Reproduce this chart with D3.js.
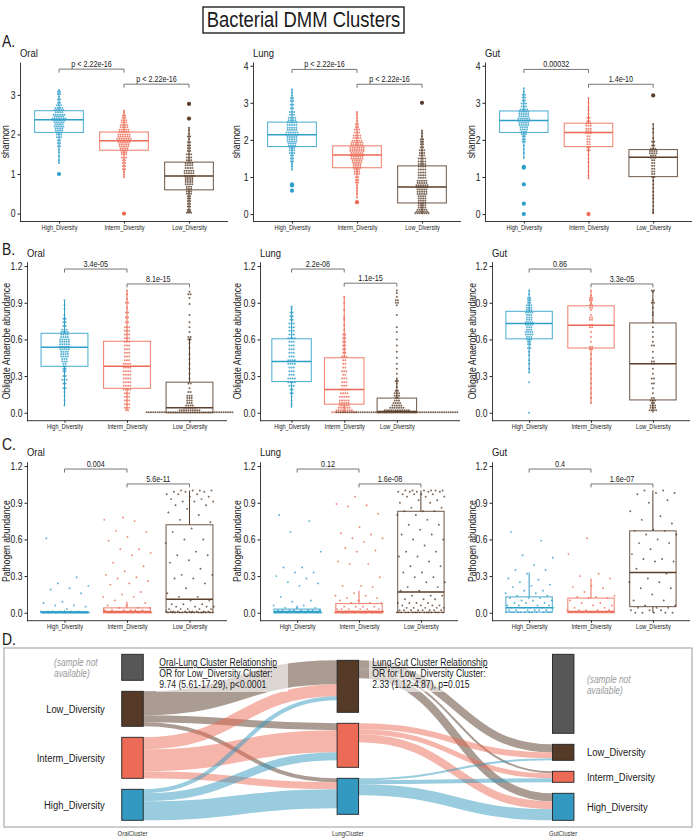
<!DOCTYPE html>
<html>
<head>
<meta charset="utf-8">
<script src="https://cdn.jsdelivr.net/npm/d3@7"></script>
<style>
  body { margin: 0; background: #fff; }
  svg text { font-family: "Liberation Sans", Arial, sans-serif; fill: #1a1a1a; }
</style>
</head>
<body>
<div id="wrapper"></div>
<script>
// ---------- data ----------
const groups = ["High_Diversity", "Interm_Diversity", "Low_Diversity"]
const sites = ["Oral", "Lung", "Gut"]

// box stats per group: [q1, median, q3, whiskerLow, whiskerHigh]
const shannonOralBox = [[2.05, 2.37, 2.6, 1.28, 3.12], [1.6, 1.84, 2.06, 0.92, 2.6], [0.6, 0.95, 1.3, 0.02, 2.17]]
const shannonLungBox = [[1.82, 2.14, 2.48, 1.2, 3.36], [1.25, 1.59, 1.84, 0.45, 2.75], [0.3, 0.73, 1.3, 0.0, 2.25]]
const shannonGutBox = [[2.2, 2.52, 2.78, 1.51, 3.39], [1.82, 2.2, 2.45, 0.96, 3.12], [1.01, 1.53, 1.74, 0.02, 2.43]]
const shannonOralOutliers = [[1.0], [0.0], [2.4, 2.77]]
const shannonLungOutliers = [[0.8, 0.77, 0.63], [0.32], [3.0]]
const shannonGutOutliers = [[1.27, 1.25, 0.8, 0.28, 0.0], [0.0], [3.2]]
const shannonOralP = ["p < 2.22e-16", "p < 2.22e-16"]
const shannonLungP = ["p < 2.22e-16", "p < 2.22e-16"]
const shannonGutP = ["0.00032", "1.4e-10"]

// dot rows per group: [value, number of dots]
const shannonOralDots = [
  [[3.12,1],[3.08,2],[3.02,2],[2.95,1],[2.88,2],[2.8,2],[2.74,3],[2.67,4],[2.62,5],[2.56,4],[2.5,6],[2.45,5],[2.4,7],[2.35,6],[2.3,5],[2.25,4],[2.2,5],[2.15,4],[2.1,4],[2.05,3],[2.0,3],[1.93,3],[1.85,2],[1.78,2],[1.7,2],[1.62,1],[1.55,1],[1.45,1],[1.35,1],[1.28,1]],
  [[2.6,1],[2.55,1],[2.48,2],[2.42,2],[2.36,3],[2.3,3],[2.24,4],[2.18,4],[2.12,5],[2.06,5],[2.0,6],[1.95,6],[1.9,7],[1.85,7],[1.8,6],[1.75,5],[1.7,5],[1.65,4],[1.6,4],[1.55,3],[1.5,3],[1.42,3],[1.35,2],[1.28,2],[1.2,2],[1.12,2],[1.05,1],[0.98,1],[0.92,1]],
  [[2.17,1],[2.1,1],[2.02,1],[1.95,2],[1.88,1],[1.8,2],[1.72,2],[1.65,2],[1.58,2],[1.5,3],[1.42,3],[1.35,3],[1.28,4],[1.22,4],[1.15,4],[1.08,5],[1.02,5],[0.95,5],[0.9,4],[0.85,4],[0.8,4],[0.74,4],[0.68,3],[0.62,3],[0.56,3],[0.5,3],[0.44,2],[0.38,2],[0.32,2],[0.25,2],[0.18,2],[0.1,2],[0.05,2],[0.02,3]]
]
const shannonLungDots = [
  [[3.36,1],[3.28,1],[3.2,1],[3.12,2],[3.05,2],[2.95,2],[2.85,2],[2.75,3],[2.68,3],[2.6,4],[2.53,4],[2.47,5],[2.4,5],[2.33,5],[2.27,5],[2.2,6],[2.14,6],[2.08,5],[2.02,5],[1.96,5],[1.9,4],[1.84,4],[1.78,3],[1.72,3],[1.65,3],[1.58,2],[1.5,2],[1.42,2],[1.35,1],[1.28,1],[1.2,1]],
  [[2.75,1],[2.68,1],[2.6,1],[2.5,1],[2.42,2],[2.35,2],[2.28,3],[2.2,3],[2.12,4],[2.05,4],[1.98,5],[1.92,6],[1.86,6],[1.8,7],[1.75,7],[1.7,7],[1.65,6],[1.6,7],[1.55,6],[1.5,6],[1.45,5],[1.4,5],[1.35,4],[1.3,4],[1.25,4],[1.2,3],[1.14,3],[1.08,3],[1.0,2],[0.92,2],[0.85,2],[0.78,1],[0.7,1],[0.62,1],[0.55,1],[0.45,1]],
  [[2.25,1],[2.18,1],[2.1,1],[2.02,2],[1.95,2],[1.88,2],[1.8,2],[1.72,3],[1.65,3],[1.58,3],[1.5,4],[1.42,4],[1.35,4],[1.28,4],[1.2,4],[1.12,4],[1.05,4],[0.98,4],[0.9,5],[0.84,5],[0.78,6],[0.72,6],[0.66,5],[0.6,5],[0.54,5],[0.48,4],[0.42,4],[0.36,4],[0.3,4],[0.24,4],[0.18,4],[0.12,5],[0.06,6],[0.02,7]]
]
const shannonGutDots = [
  [[3.39,1],[3.3,1],[3.22,2],[3.14,2],[3.06,2],[2.98,3],[2.9,3],[2.82,4],[2.76,5],[2.7,5],[2.64,5],[2.58,6],[2.52,6],[2.46,5],[2.4,5],[2.34,4],[2.28,4],[2.22,3],[2.16,3],[2.1,2],[2.02,2],[1.95,2],[1.85,1],[1.75,1],[1.65,1],[1.51,1]],
  [[3.12,1],[3.0,1],[2.88,1],[2.8,1],[2.7,1],[2.6,2],[2.5,2],[2.44,3],[2.38,3],[2.3,3],[2.24,3],[2.18,3],[2.1,2],[2.02,2],[1.95,2],[1.88,2],[1.8,2],[1.72,2],[1.6,1],[1.5,1],[1.4,1],[1.28,1],[1.15,1],[1.05,1],[0.96,1]],
  [[2.43,1],[2.3,1],[2.2,1],[2.05,1],[1.95,2],[1.85,2],[1.76,3],[1.7,4],[1.64,4],[1.58,3],[1.52,3],[1.45,2],[1.38,2],[1.3,2],[1.22,2],[1.15,2],[1.08,2],[1.0,2],[0.9,1],[0.8,1],[0.7,1],[0.6,1],[0.5,1],[0.42,1],[0.32,1],[0.22,1],[0.12,1],[0.05,1],[0.02,1]]
]

const anaerobeOralBox = [[0.38, 0.535, 0.65, 0.06, 0.92], [0.2, 0.38, 0.585, 0.02, 1.0], [0.0, 0.04, 0.25, 0.0, 0.61]]
const anaerobeLungBox = [[0.255, 0.42, 0.605, 0.05, 0.87], [0.07, 0.19, 0.45, 0.0, 0.95], [0.0, 0.01, 0.12, 0.0, 0.28]]
const anaerobeGutBox = [[0.605, 0.73, 0.83, 0.33, 1.0], [0.53, 0.715, 0.875, 0.08, 1.0], [0.105, 0.4, 0.735, 0.0, 1.0]]
const anaerobeOralP = ["3.4e-05", "8.1e-15"]
const anaerobeLungP = ["2.2e-08", "1.1e-15"]
const anaerobeGutP = ["0.86", "3.3e-05"]

const anaerobeOralDots = [
  [[0.92,1],[0.88,1],[0.85,1],[0.8,1],[0.77,2],[0.74,2],[0.71,2],[0.68,3],[0.66,4],[0.64,4],[0.62,4],[0.6,5],[0.58,5],[0.56,5],[0.54,5],[0.52,5],[0.5,4],[0.48,4],[0.46,4],[0.44,3],[0.42,3],[0.4,2],[0.38,2],[0.36,2],[0.34,2],[0.3,2],[0.27,3],[0.24,2],[0.2,2],[0.17,1],[0.14,1],[0.1,1],[0.06,1]],
  [[1.0,1],[0.97,1],[0.93,1],[0.9,2],[0.86,1],[0.82,2],[0.78,2],[0.74,2],[0.7,3],[0.67,3],[0.64,3],[0.61,3],[0.58,3],[0.55,3],[0.52,3],[0.49,3],[0.46,3],[0.43,3],[0.4,4],[0.37,4],[0.34,4],[0.31,4],[0.28,4],[0.25,4],[0.22,4],[0.19,4],[0.16,3],[0.13,3],[0.1,3],[0.07,3],[0.04,3],[0.02,2]],
  [[0.99,1],[0.97,2],[0.94,1],[0.89,1],[0.8,1],[0.74,1],[0.7,1],[0.66,1],[0.62,2],[0.6,2],[0.57,1],[0.53,1],[0.48,1],[0.44,1],[0.4,1],[0.36,1],[0.32,1],[0.28,1],[0.24,2],[0.2,1],[0.17,2],[0.14,3],[0.12,3],[0.1,3],[0.08,3],[0.06,4],[0.04,6],[0.02,10],[0.005,40]]
]
const anaerobeLungDots = [
  [[0.87,1],[0.85,1],[0.82,2],[0.79,2],[0.76,2],[0.73,3],[0.7,3],[0.67,3],[0.64,3],[0.61,4],[0.58,3],[0.55,3],[0.52,3],[0.49,3],[0.46,3],[0.43,4],[0.4,4],[0.37,3],[0.34,3],[0.31,3],[0.28,4],[0.25,4],[0.22,3],[0.19,2],[0.16,2],[0.13,1],[0.1,1],[0.07,1],[0.05,1]],
  [[0.95,1],[0.9,1],[0.84,1],[0.78,1],[0.76,1],[0.72,1],[0.68,1],[0.64,2],[0.61,2],[0.58,2],[0.55,2],[0.52,2],[0.49,2],[0.46,3],[0.43,2],[0.4,2],[0.37,2],[0.34,3],[0.31,2],[0.28,3],[0.25,3],[0.22,3],[0.19,4],[0.16,4],[0.13,5],[0.1,5],[0.08,5],[0.06,5],[0.04,6],[0.02,8],[0.005,12]],
  [[1.0,1],[0.98,1],[0.95,1],[0.92,2],[0.9,2],[0.88,1],[0.8,1],[0.7,1],[0.66,1],[0.6,1],[0.55,1],[0.5,1],[0.45,1],[0.4,1],[0.36,1],[0.32,1],[0.28,1],[0.26,2],[0.24,1],[0.21,1],[0.18,2],[0.16,3],[0.14,3],[0.12,2],[0.1,3],[0.08,4],[0.06,5],[0.04,7],[0.02,12],[0.005,56]]
]
const anaerobeGutDots = [
  [[1.0,1],[0.97,1],[0.94,2],[0.92,2],[0.9,2],[0.88,3],[0.86,3],[0.84,3],[0.82,4],[0.8,3],[0.78,3],[0.76,3],[0.74,4],[0.72,4],[0.7,3],[0.68,3],[0.66,4],[0.64,4],[0.62,3],[0.6,3],[0.58,2],[0.56,2],[0.53,2],[0.5,1],[0.47,1],[0.43,1],[0.4,1],[0.36,1],[0.33,1],[0.25,1],[0.0,1]],
  [[1.0,1],[0.96,1],[0.94,2],[0.92,2],[0.9,1],[0.88,2],[0.86,2],[0.84,1],[0.8,1],[0.78,2],[0.76,2],[0.72,2],[0.7,2],[0.66,1],[0.62,1],[0.58,1],[0.54,2],[0.52,2],[0.48,1],[0.44,1],[0.4,1],[0.36,1],[0.32,1],[0.28,1],[0.24,1],[0.2,1],[0.16,1],[0.12,1],[0.08,1]],
  [[1.0,2],[0.99,1],[0.92,1],[0.9,2],[0.86,1],[0.82,1],[0.8,1],[0.74,1],[0.7,1],[0.66,1],[0.62,1],[0.58,1],[0.55,2],[0.5,1],[0.45,1],[0.42,2],[0.4,2],[0.36,1],[0.32,1],[0.28,2],[0.24,2],[0.2,1],[0.16,1],[0.12,2],[0.1,3],[0.08,2],[0.06,3],[0.04,3],[0.02,4]]
]

const pathogenOralBox = [[0.0, 0.003, 0.01, 0.0, 0.02], [0.0, 0.01, 0.04, 0.0, 0.09], [0.003, 0.11, 0.72, 0.0, 1.0]]
const pathogenLungBox = [[0.0, 0.01, 0.03, 0.0, 0.06], [0.0, 0.01, 0.075, 0.0, 0.18], [0.003, 0.17, 0.83, 0.0, 1.0]]
const pathogenGutBox = [[0.005, 0.04, 0.13, 0.0, 0.33], [0.0, 0.01, 0.12, 0.0, 0.28], [0.05, 0.33, 0.67, 0.0, 1.0]]
const pathogenOralP = ["0.004", "5.6e-11"]
const pathogenLungP = ["0.12", "1.6e-08"]
const pathogenGutP = ["0.4", "1.6e-07"]

const pathogenOralDots = [
  [[0.61,1],[0.29,1],[0.24,1],[0.22,1],[0.2,1],[0.19,1],[0.16,1],[0.09,1],[0.08,1],[0.06,2],[0.05,1],[0.03,1],[0.01,6],[0.003,30]],
  [[0.78,1],[0.76,1],[0.75,1],[0.67,1],[0.66,1],[0.62,1],[0.59,1],[0.52,2],[0.49,1],[0.47,1],[0.41,1],[0.38,1],[0.34,1],[0.31,1],[0.29,1],[0.28,1],[0.26,1],[0.24,1],[0.23,1],[0.17,1],[0.15,1],[0.13,2],[0.1,1],[0.08,1],[0.06,2],[0.04,3],[0.02,6],[0.003,30]],
  [[1.0,4],[0.99,3],[0.97,3],[0.95,2],[0.93,2],[0.91,3],[0.88,2],[0.85,1],[0.82,1],[0.8,1],[0.76,1],[0.74,1],[0.69,1],[0.66,1],[0.6,2],[0.57,1],[0.5,1],[0.47,2],[0.43,1],[0.41,1],[0.36,1],[0.31,2],[0.28,2],[0.24,1],[0.2,1],[0.16,1],[0.13,2],[0.1,2],[0.07,3],[0.05,4],[0.03,5],[0.01,10],[0.002,14]]
]
const pathogenLungDots = [
  [[0.8,1],[0.75,1],[0.66,1],[0.5,1],[0.37,2],[0.33,2],[0.3,1],[0.28,1],[0.25,1],[0.24,1],[0.22,1],[0.13,1],[0.1,1],[0.09,1],[0.06,2],[0.04,3],[0.02,8],[0.003,40]],
  [[0.95,1],[0.89,1],[0.88,1],[0.87,1],[0.81,1],[0.7,1],[0.65,1],[0.64,1],[0.61,2],[0.58,1],[0.53,1],[0.51,1],[0.5,1],[0.42,1],[0.4,2],[0.29,1],[0.22,2],[0.21,1],[0.16,1],[0.14,2],[0.12,2],[0.1,2],[0.08,3],[0.05,4],[0.03,6],[0.01,10],[0.002,30]],
  [[1.0,6],[0.99,5],[0.97,4],[0.95,3],[0.92,2],[0.9,2],[0.86,2],[0.83,3],[0.8,2],[0.76,1],[0.72,2],[0.68,1],[0.64,2],[0.6,2],[0.55,1],[0.5,2],[0.46,2],[0.42,1],[0.38,2],[0.33,2],[0.29,2],[0.25,2],[0.21,2],[0.18,2],[0.14,3],[0.11,3],[0.08,4],[0.06,4],[0.04,5],[0.02,8],[0.003,16]]
]
const pathogenGutDots = [
  [[0.66,1],[0.59,1],[0.47,1],[0.45,1],[0.39,1],[0.35,2],[0.32,1],[0.28,1],[0.27,1],[0.25,1],[0.23,1],[0.22,1],[0.21,1],[0.18,2],[0.16,2],[0.14,2],[0.12,3],[0.1,3],[0.08,3],[0.06,4],[0.04,5],[0.02,6],[0.005,12]],
  [[0.61,1],[0.48,1],[0.32,1],[0.3,1],[0.28,1],[0.22,1],[0.21,1],[0.2,1],[0.17,1],[0.14,1],[0.13,2],[0.12,2],[0.1,1],[0.08,2],[0.06,2],[0.04,2],[0.02,5],[0.005,14]],
  [[1.0,2],[0.98,2],[0.97,1],[0.92,1],[0.9,1],[0.83,1],[0.79,1],[0.76,1],[0.73,1],[0.68,1],[0.67,2],[0.64,2],[0.6,1],[0.57,2],[0.52,1],[0.48,1],[0.44,2],[0.42,2],[0.36,1],[0.32,1],[0.28,1],[0.25,2],[0.2,2],[0.15,1],[0.1,2],[0.06,2],[0.04,3],[0.02,3],[0.0,5]]
]

// sankey
const sankeyColumns = ["OralCluster", "LungCluster", "GutCluster"]
const sankeyNodeNames = ["NA", "Low_Diversity", "Interm_Diversity", "High_Diversity"]
const oralNodeCounts = [26, 35, 41, 31]
const lungNodeCounts = [0, 52, 44, 36]
const gutNodeCounts = [79, 16, 11, 27]
const oralLungLinks = [
  ["Low_Diversity", "Low_Diversity", 24], ["Low_Diversity", "Interm_Diversity", 7], ["Low_Diversity", "High_Diversity", 4],
  ["Interm_Diversity", "Low_Diversity", 12], ["Interm_Diversity", "Interm_Diversity", 22], ["Interm_Diversity", "High_Diversity", 7],
  ["High_Diversity", "Low_Diversity", 4], ["High_Diversity", "Interm_Diversity", 8], ["High_Diversity", "High_Diversity", 19]
]
const lungGutLinks = [
  ["Low_Diversity", "Low_Diversity", 8], ["Low_Diversity", "Interm_Diversity", 2], ["Low_Diversity", "High_Diversity", 8],
  ["Interm_Diversity", "Low_Diversity", 6], ["Interm_Diversity", "Interm_Diversity", 5], ["Interm_Diversity", "High_Diversity", 8],
  ["High_Diversity", "Low_Diversity", 2], ["High_Diversity", "Interm_Diversity", 4], ["High_Diversity", "High_Diversity", 11]
]
const oralLungNote = ["Oral-Lung Cluster Relationship", "OR for Low_Diversity Cluster:", "9.74 (5.61-17.29), p<0.0001"]
const lungGutNote = ["Lung-Gut Cluster Relationship", "OR for Low_Diversity Cluster:", "2.33 (1.12-4.87), p=0.015"]

// ---------- drawing ----------
const groupColor = ["#2E9FC9", "#EC6A55", "#5A3E2B"]
const squeezeX = 0.82

function drawChart() {
  const width = 694
  const height = 839

  const svg = d3.select("#wrapper")
    .append("svg")
      .attr("width", width)
      .attr("height", height)

  // title
  svg.append("rect")
    .attr("x", 203).attr("y", 7).attr("width", 201).attr("height", 26)
    .attr("fill", "none").attr("stroke", "#111").attr("stroke-width", 1.3)
  svg.append("text")
    .attr("x", 303.5).attr("y", 27)
    .attr("text-anchor", "middle")
    .attr("font-size", 22.5)
    .text("Bacterial DMM Clusters")

  const letters = [["A.", 47], ["B.", 255], ["C.", 450], ["D.", 645]]
  letters.forEach(([t, y]) => {
    svg.append("text").attr("x", 2).attr("y", y).attr("font-size", 17).text(t)
  })

  // row layouts
  const rowA = { yTop: 62, yBottom: 221.5, titleY: 57, yLabel: "shannon", fmt: d3.format("d") }
  const rowB = { yTop: 261.7, yBottom: 420.7, titleY: 256.5, yLabel: "Obligate Anaerobe abundance", fmt: d3.format(".1f") }
  const rowC = { yTop: 461.7, yBottom: 620.7, titleY: 456, yLabel: "Pathogen abundance", fmt: d3.format(".1f") }
  const abTicks = [0, 0.3, 0.6, 0.9, 1.2]
  const abDomain = [-0.065, 1.236]

  const panels = [
    { ...rowA, x0: 20, x1: 228, padR: 0.6, domain: [-0.2, 3.83], ticks: [0, 1, 2, 3], bracket: [3.65, 3.27], labelX: 9,
      box: shannonOralBox, rows: shannonOralDots, outliers: shannonOralOutliers, pvals: shannonOralP, title: sites[0] },
    { ...rowA, x0: 253, x1: 461, padR: 0.6, domain: [-0.2, 4.1], ticks: [0, 1, 2, 3, 4], bracket: [3.9, 3.5], labelX: 240,
      box: shannonLungBox, rows: shannonLungDots, outliers: shannonLungOutliers, pvals: shannonLungP, title: sites[1] },
    { ...rowA, x0: 485, x1: 692, padR: 0.6, domain: [-0.2, 4.1], ticks: [0, 1, 2, 3, 4], bracket: [3.9, 3.5], labelX: 475,
      box: shannonGutBox, rows: shannonGutDots, outliers: shannonGutOutliers, pvals: shannonGutP, title: sites[2] },

    { ...rowB, x0: 27, x1: 227, padR: 0.6, domain: abDomain, ticks: abTicks, bracket: [1.176, 1.054], labelX: 10,
      box: anaerobeOralBox, rows: anaerobeOralDots, pvals: anaerobeOralP, title: sites[0] },
    { ...rowB, x0: 260, x1: 460, padR: 1.2, domain: abDomain, ticks: abTicks, bracket: [1.176, 1.06], labelX: 241,
      box: anaerobeLungBox, rows: anaerobeLungDots, pvals: anaerobeLungP, title: sites[1] },
    { ...rowB, x0: 492, x1: 690, padR: 0.6, domain: abDomain, ticks: abTicks, bracket: [1.176, 1.054], labelX: 476,
      box: anaerobeGutBox, rows: anaerobeGutDots, pvals: anaerobeGutP, title: sites[2] },

    { ...rowC, x0: 27, x1: 227, padR: 0.6, domain: abDomain, ticks: abTicks, bracket: [1.176, 1.054], labelX: 10, jitter: true,
      box: pathogenOralBox, rows: pathogenOralDots, pvals: pathogenOralP, title: sites[0] },
    { ...rowC, x0: 260, x1: 458, padR: 0.6, domain: abDomain, ticks: abTicks, bracket: [1.176, 1.054], labelX: 241, jitter: true,
      box: pathogenLungBox, rows: pathogenLungDots, pvals: pathogenLungP, title: sites[1] },
    { ...rowC, x0: 492, x1: 690, padR: 0.6, domain: abDomain, ticks: abTicks, bracket: [1.176, 1.054], labelX: 476, jitter: true,
      box: pathogenGutBox, rows: pathogenGutDots, pvals: pathogenGutP, title: sites[2] },
  ]

  panels.forEach(p => drawPanel(svg, p))
  drawSankey(svg)

  // the figure's lettering is condensed: squeeze every text horizontally
  svg.selectAll("text").each(function() {
    const t = d3.select(this)
    const x = +t.attr("x") || 0
    const y = +t.attr("y") || 0
    const prev = t.attr("transform") || ""
    t.attr("x", 0).attr("y", 0)
      .attr("transform", `${prev} translate(${x},${y}) scale(${squeezeX},1)`)
  })
}

function drawPanel(svg, p) {
  const step = (p.x1 - p.x0) / (2 + 0.6 + p.padR)
  const xScale = d3.scalePoint()
    .domain(groups)
    .range([p.x0 + 0.6 * step, p.x0 + 2.6 * step])
  const yScale = d3.scaleLinear()
    .domain(p.domain)
    .range([p.yBottom, p.yTop])
  const boxW = step * 0.75

  const bounds = svg.append("g")

  // boxes
  p.box.forEach((b, gi) => {
    const cx = xScale(groups[gi])
    const c = groupColor[gi]
    bounds.append("line")
      .attr("x1", cx).attr("x2", cx)
      .attr("y1", yScale(b[3])).attr("y2", yScale(b[0]))
      .attr("stroke", c).attr("stroke-width", 1)
    bounds.append("line")
      .attr("x1", cx).attr("x2", cx)
      .attr("y1", yScale(b[2])).attr("y2", yScale(b[4]))
      .attr("stroke", c).attr("stroke-width", 1)
    bounds.append("rect")
      .attr("x", cx - boxW / 2)
      .attr("y", yScale(b[2]))
      .attr("width", boxW)
      .attr("height", Math.max(0.6, yScale(b[0]) - yScale(b[2])))
      .attr("fill", "none")
      .attr("stroke", c).attr("stroke-opacity", 0.8).attr("stroke-width", 1.1)
    bounds.append("line")
      .attr("x1", cx - boxW / 2).attr("x2", cx + boxW / 2)
      .attr("y1", yScale(b[1])).attr("y2", yScale(b[1]))
      .attr("stroke", c).attr("stroke-width", 1.5)
  })

  // dots
  const dots = []
  p.rows.forEach((rows, gi) => {
    const cx = xScale(groups[gi])
    let k = 0
    rows.forEach(([v, n]) => {
      for (let j = 0; j < n; j++) {
        let dx
        if (p.jitter) {
          dx = (((k * 0.618034 + gi * 0.29 + 0.13) % 1) - 0.5) * boxW * 1.05
          k++
        } else {
          dx = (j - (n - 1) / 2) * 2.2
        }
        dots.push({ x: cx + dx, y: yScale(v), gi })
      }
    })
  })
  bounds.append("g").selectAll("circle")
    .data(dots)
    .enter().append("circle")
      .attr("cx", d => d.x)
      .attr("cy", d => d.y)
      .attr("r", p.jitter ? 0.95 : 1.0)
      .attr("fill", d => groupColor[d.gi])
      .attr("fill-opacity", 0.8)

  // boxplot outliers
  if (p.outliers) {
    p.outliers.forEach((vals, gi) => {
      vals.forEach(v => {
        bounds.append("circle")
          .attr("cx", xScale(groups[gi]))
          .attr("cy", yScale(v))
          .attr("r", 2.1)
          .attr("fill", groupColor[gi])
      })
    })
  }

  // axes
  const yAxis = bounds.append("g")
    .attr("transform", `translate(${p.x0},0)`)
    .call(d3.axisLeft(yScale).tickValues(p.ticks).tickFormat(p.fmt)
      .tickSize(2.5).tickSizeOuter(0).tickPadding(2))
  yAxis.attr("font-size", 10.5).attr("color", "#222")
  yAxis.select(".domain").attr("stroke-width", 0.9)

  const xAxis = bounds.append("g")
    .attr("transform", `translate(0,${p.yBottom})`)
    .call(d3.axisBottom(xScale).tickSize(2).tickSizeOuter(0).tickPadding(1.5))
  xAxis.attr("font-size", 6.8).attr("color", "#222")
  xAxis.select(".domain").remove()
  xAxis.append("line")
    .attr("x1", p.x0).attr("x2", p.x1)
    .attr("stroke", "#222").attr("stroke-width", 0.9)

  // brackets
  p.pvals.forEach((label, i) => {
    const xa = xScale(groups[i])
    const xb = xScale(groups[i + 1])
    const y = yScale(p.bracket[i])
    bounds.append("path")
      .attr("d", `M${xa},${y + 3.5}V${y}H${xb}V${y + 3.5}`)
      .attr("fill", "none").attr("stroke", "#666").attr("stroke-width", 0.9)
    bounds.append("text")
      .attr("x", (xa + xb) / 2).attr("y", y - 2.3)
      .attr("text-anchor", "middle")
      .attr("font-size", 8.8)
      .text(label)
  })

  // titles
  bounds.append("text")
    .attr("x", p.x0).attr("y", p.titleY)
    .attr("font-size", 11.5)
    .text(p.title)
  bounds.append("text")
    .attr("transform", `translate(${p.labelX},${(p.yTop + p.yBottom) / 2}) rotate(-90)`)
    .attr("text-anchor", "middle")
    .attr("font-size", 10.5)
    .text(p.yLabel)
}

function drawSankey(svg) {
  const k = 1
  const gap = 11
  const center = 737.3
  const nodeW = 21.5
  const nodeColor = { NA: "#575757", Low_Diversity: "#553A28", Interm_Diversity: "#EB6B56", High_Diversity: "#3399C0" }

  svg.append("rect")
    .attr("x", 4).attr("y", 648).attr("width", 688).attr("height", 179)
    .attr("fill", "none").attr("stroke", "#9a9a9a").attr("stroke-width", 1)

  const colX = d3.scalePoint().domain(sankeyColumns).range([132.5, 563.2])
  const columnCounts = [oralNodeCounts, lungNodeCounts, gutNodeCounts]

  const nodes = {}
  sankeyColumns.forEach((col, ci) => {
    const present = sankeyNodeNames
      .map((name, ni) => ({ name, count: columnCounts[ci][ni] }))
      .filter(d => d.count > 0)
    const total = d3.sum(present, d => d.count) * k + gap * (present.length - 1)
    let y = center - total / 2
    present.forEach(d => {
      nodes[col + "|" + d.name] = {
        col, name: d.name, x: colX(col) - nodeW / 2,
        y0: y, y1: y + d.count * k, outY: y, inY: y
      }
      y += d.count * k + gap
    })
  })

  const links = []
  const addLinks = (list, sCol, tCol) => {
    list.forEach(([s, t, n]) => {
      const src = nodes[sCol + "|" + s]
      const tgt = nodes[tCol + "|" + t]
      const w = n * k
      links.push({
        name: s, w,
        source: [src.x + nodeW, src.outY + w / 2],
        target: [tgt.x, tgt.inY + w / 2]
      })
      src.outY += w
      tgt.inY += w
    })
  }
  addLinks(oralLungLinks, sankeyColumns[0], sankeyColumns[1])
  addLinks(lungGutLinks, sankeyColumns[1], sankeyColumns[2])

  const linkGen = d3.linkHorizontal()
  svg.append("g").selectAll("path")
    .data(links)
    .enter().append("path")
      .attr("d", d => linkGen(d))
      .attr("fill", "none")
      .attr("stroke", d => nodeColor[d.name])
      .attr("stroke-opacity", 0.5)
      .attr("stroke-width", d => d.w)

  svg.append("g").selectAll("rect")
    .data(Object.values(nodes))
    .enter().append("rect")
      .attr("x", d => d.x)
      .attr("y", d => d.y0)
      .attr("width", nodeW)
      .attr("height", d => d.y1 - d.y0)
      .attr("fill", d => nodeColor[d.name])
      .attr("stroke", "#222").attr("stroke-width", 0.9)

  // node labels
  Object.values(nodes).forEach(d => {
    if (d.col === sankeyColumns[1]) return
    const cy = (d.y0 + d.y1) / 2
    const left = d.col === sankeyColumns[0]
    if (d.name === "NA") {
      const lx = left ? 54 : d.x + nodeW + 13
      const ly = left ? d.y0 + 11.5 : d.y0 + 28.5
      ;["(sample not", "available)"].forEach((line, i) => {
        svg.append("text")
          .attr("x", lx).attr("y", ly + i * 11.3)
          .attr("font-size", 10.2)
          .attr("font-style", "italic")
          .style("fill", "#9a9a9a")
          .text(line)
      })
    } else {
      svg.append("text")
        .attr("x", left ? d.x - 17 : d.x + nodeW + 13)
        .attr("y", cy + 4)
        .attr("text-anchor", left ? "end" : "start")
        .attr("font-size", 11.5)
        .text(d.name)
    }
  })

  // OR notes
  const notes = [[oralLungNote, 156, 159.3, 132], [lungGutNote, 369, 372.3, 128]]
  notes.forEach(([lines, bx, tx, bw]) => {
    svg.append("rect")
      .attr("x", bx).attr("y", 657).attr("width", bw).attr("height", 35)
      .attr("fill", "#fff").attr("fill-opacity", 0.6)
    lines.forEach((line, i) => {
      svg.append("text")
        .attr("x", tx).attr("y", 666 + i * 10.8)
        .attr("font-size", 10.5)
        .style("text-decoration", i === 0 ? "underline" : null)
        .text(line)
    })
  })

  // column labels
  sankeyColumns.forEach(col => {
    svg.append("text")
      .attr("x", colX(col)).attr("y", 836)
      .attr("text-anchor", "middle")
      .attr("font-size", 7.2)
      .style("fill", "#333")
      .text(col)
  })
}

drawChart()
</script>
</body>
</html>
